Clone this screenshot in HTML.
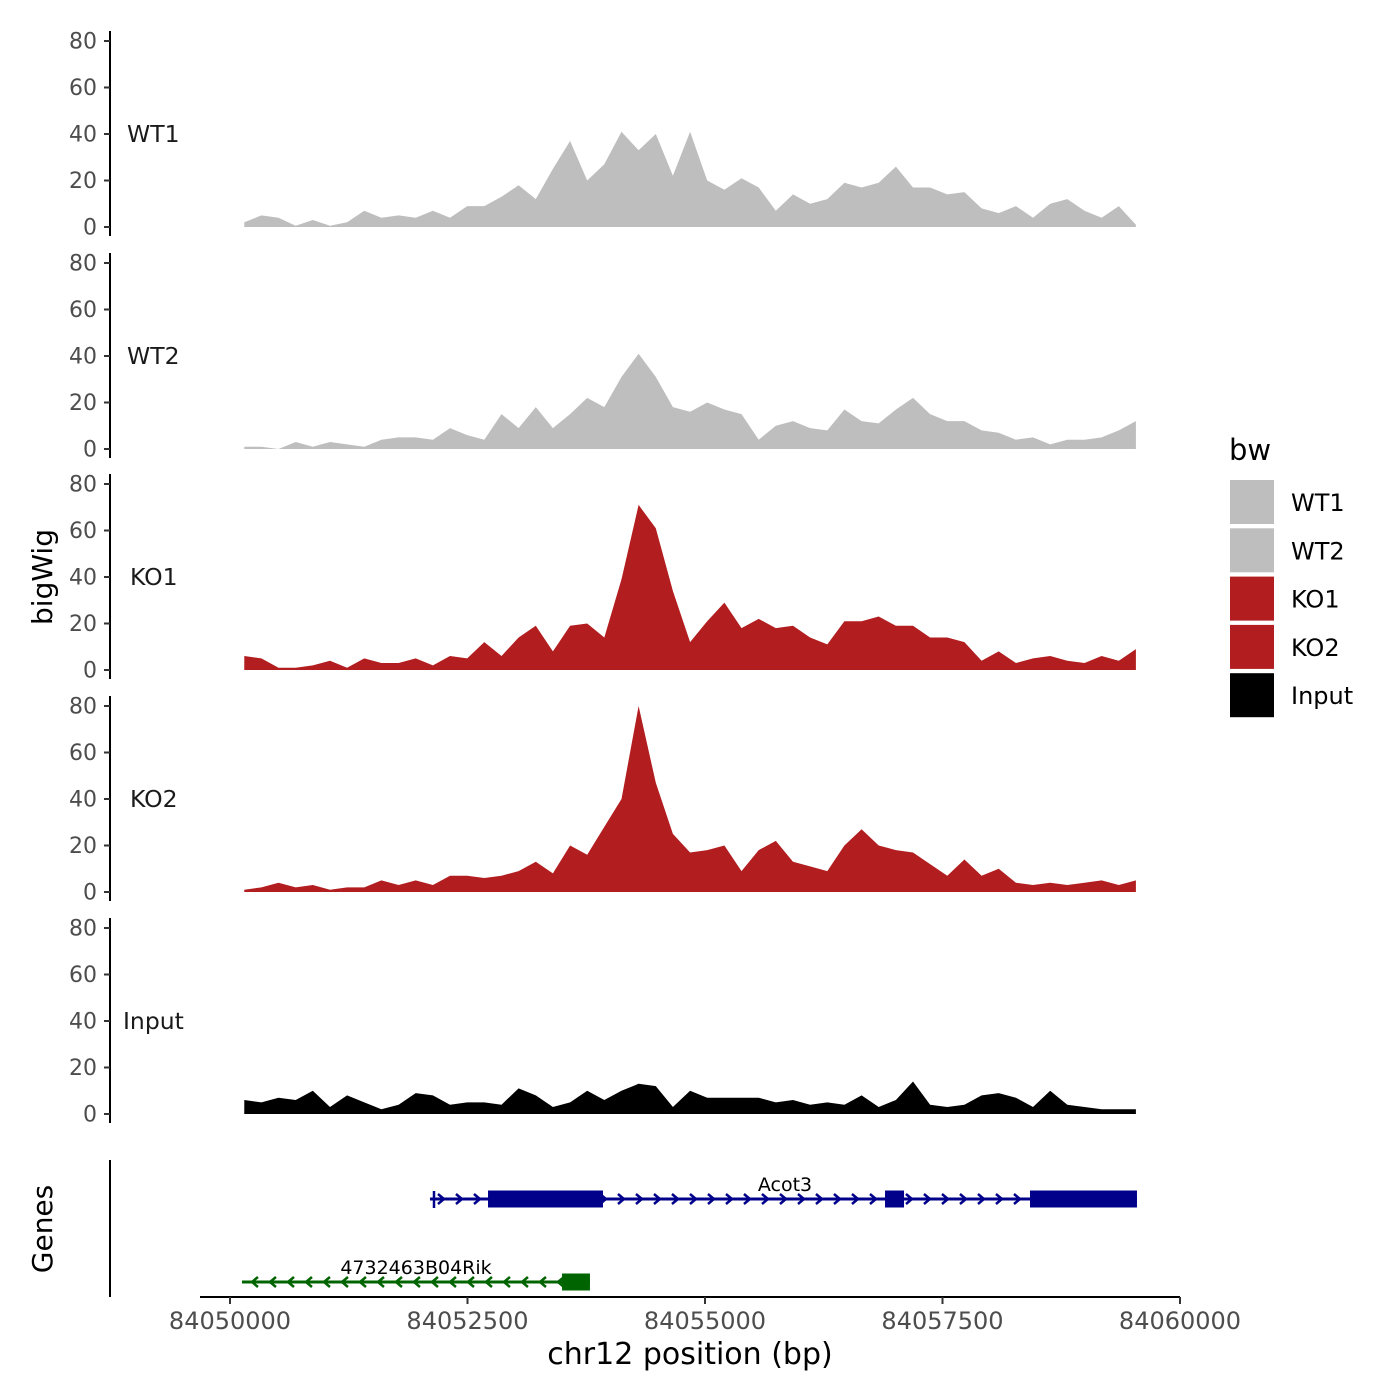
<!DOCTYPE html>
<html><head><meta charset="utf-8"><style>
html,body{margin:0;padding:0;background:#fff;}
svg{display:block;font-family:"DejaVu Sans","Liberation Sans",sans-serif;}
</style></head><body>
<svg id="chart" width="1400" height="1400" viewBox="0 0 1400 1400"></svg>
<script>
const trackNames = ["WT1","WT2","KO1","KO2","Input"];
const trackColors = ["#bebebe","#bebebe","#b21d1f","#b21d1f","#000000"];
const binStart = 84050150;
const binStep = 180.5;
const wt1Values = [2,5,4,0.5,3,0.5,2,7,4,5,4,7,4,9,9,13,18,12,25,37,20,27,41,33,40,22,41,20,16,21,17,7,14,10,12,19,17,19,26,17,17,14,15,8,6,9,4,10,12,7,4,9,1];
const wt2Values = [1,1,0,3,1,3,2,1,4,5,5,4,9,6,4,15,9,18,9,15,22,18,31,41,31,18,16,20,17,15,4,10,12,9,8,17,12,11,17,22,15,12,12,8,7,4,5,2,4,4,5,8,12];
const ko1Values = [6,5,1,1,2,4,1,5,3,3,5,2,6,5,12,6,14,19,8,19,20,14,39,71,61,34,12,21,29,18,22,18,19,14,11,21,21,23,19,19,14,14,12,4,8,3,5,6,4,3,6,4,9];
const ko2Values = [1,2,4,2,3,1,2,2,5,3,5,3,7,7,6,7,9,13,8,20,16,28,40,80,47,25,17,18,20,9,18,22,13,11,9,20,27,20,18,17,12,7,14,7,10,4,3,4,3,4,5,3,5];
const inputValues = [6,5,7,6,10,3,8,5,2,4,9,8,4,5,5,4,11,8,3,5,10,6,10,13,12,3,10,7,7,7,7,5,6,4,5,4,8,3,6,14,4,3,4,8,9,7,3,10,4,3,2,2,2];
const yTicks = [0,20,40,60,80];
const xTicks = [84050000,84052500,84055000,84057500,84060000];
const acot3Start = 84052105, acot3End = 84059547;
const acot3Exons = [[84052716,84053926],[84056895,84057095],[84058421,84059547]];
const rikStart = 84050126, rikEnd = 84053789;
const rikExons = [[84053495,84053789]];
const legendLabels = ["WT1","WT2","KO1","KO2","Input"];

const NS="http://www.w3.org/2000/svg";
const svg=document.getElementById('chart');
function el(t,a,p){const e=document.createElementNS(NS,t);for(const k in a)e.setAttribute(k,a[k]);(p||svg).appendChild(e);return e;}
function xs(bp){return 230+(bp-84050000)*0.095;}
const zeros=[227,449,670,892,1114];
function ys(i,v){return zeros[i]-v*2.325;}
const allVals=[wt1Values,wt2Values,ko1Values,ko2Values,inputValues];

trackNames.forEach((nm,i)=>{
  const g=el('g',{});
  
  
  const vals=allVals[i];
  let d='M'+xs(binStart)+','+zeros[i];
  vals.forEach((v,j)=>{d+=' L'+xs(binStart+j*binStep).toFixed(1)+','+ys(i,v).toFixed(1);});
  d+=' L'+xs(binStart+(vals.length-1)*binStep).toFixed(1)+','+zeros[i]+' Z';
  const p=el('path',{d:d,fill:trackColors[i]},g);
  
  
  const ax=el('line',{x1:110,x2:110,y1:ys(i,80)-10,y2:zeros[i]+9,stroke:'#000','stroke-width':2},g);
  
  
  yTicks.forEach(t=>{
    const y=ys(i,t);
    el('line',{x1:104,x2:110,y1:y,y2:y,stroke:'#333','stroke-width':2},g);
    const tx=el('text',{x:97,y:y+7.5,'text-anchor':'end','font-size':22,fill:'#4d4d4d'},g);
    tx.textContent=t;
    
    
  });
  const lb=el('text',{x:nm==='Input'?123:(nm.startsWith('KO')?130:127),y:ys(i,40)+8,'font-size':23.5,fill:'#1a1a1a'},g);
  lb.textContent=nm;
  
  
});

const yt=el('text',{x:0,y:0,'font-size':28,'text-anchor':'middle',transform:'translate(52,577) rotate(-90)'});
yt.textContent='bigWig';


const gt=el('text',{x:0,y:0,'font-size':28,'text-anchor':'middle',transform:'translate(52,1229) rotate(-90)'});
gt.textContent='Genes';



const gax=el('line',{x1:110,x2:110,y1:1160,y2:1297,stroke:'#000','stroke-width':2});


function gene(name,start,end,exons,y,color,dir,lx,ly){
  const g=el('g',{});
  
  
  el('line',{x1:xs(start),x2:xs(end),y1:y,y2:y,stroke:color,'stroke-width':3},g);
  for(let x=xs(start)+12;x<xs(end)-4;x+=18){
    const d=dir>0?`M${x-4},${y-5} L${x+2},${y} L${x-4},${y+5}`:`M${x+4},${y-5} L${x-2},${y} L${x+4},${y+5}`;
    el('path',{d:d,fill:'none',stroke:color,'stroke-width':2.5},g);
  }
  exons.forEach(e=>{
    const r=el('rect',{x:xs(e[0]),y:y-8.5,width:xs(e[1])-xs(e[0]),height:17,fill:color},g);
    
    
  });
  const t=el('text',{x:lx,y:ly,'text-anchor':'middle','font-size':19,fill:'#000'},g);
  t.textContent=name;
  
  
  return g;
}
gene('Acot3',acot3Start,acot3End,acot3Exons,1199,'#00008b',1,785,1191);
el('line',{x1:434,x2:434,y1:1191,y2:1208,stroke:'#00008b','stroke-width':2.5});
gene('4732463B04Rik',rikStart,rikEnd,rikExons,1282,'#006400',-1,416,1274);

const xa=el('line',{x1:200,x2:1180,y1:1297,y2:1297,stroke:'#000','stroke-width':2});


xTicks.forEach(t=>{
  const x=xs(t);
  el('line',{x1:x,x2:x,y1:1297,y2:1304,stroke:'#333','stroke-width':2});
  const tx=el('text',{x:x,y:1329,'text-anchor':'middle','font-size':24,fill:'#4d4d4d'});
  tx.textContent=t;
  
  
});
const xt=el('text',{x:690,y:1364,'text-anchor':'middle','font-size':30,fill:'#000'});
xt.textContent='chr12 position (bp)';



const lg=el('g',{});


const lt=el('text',{x:1229,y:460,'font-size':29,fill:'#000'},lg);
lt.textContent='bw';


legendLabels.forEach((l,i)=>{
  const y=480+i*48.3;
  const r=el('rect',{x:1230,y:y,width:44,height:44,fill:trackColors[i]},lg);
  
  
  const t=el('text',{x:1291,y:y+31,'font-size':24,fill:'#000'},lg);
  t.textContent=l;
  
  
});
</script>
</body></html>
